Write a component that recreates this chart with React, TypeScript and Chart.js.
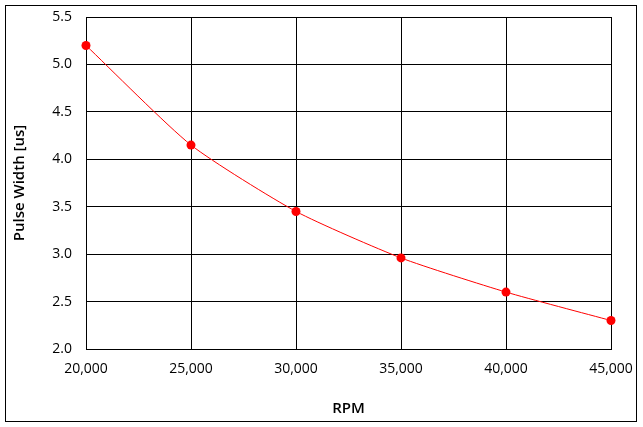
import React, { useEffect, useRef } from "react";
import { Chart, registerables } from "chart.js";

Chart.register(...registerables);

const rpm = [20000, 25000, 30000, 35000, 40000, 45000];
const pulseWidth = [5.2, 4.15, 3.45, 2.96, 2.6, 2.3];
const xTitle = "RPM";
const yTitle = "Pulse Width [us]";

const FONT = "'Open Sans', 'Noto Sans', sans-serif";

export default function App() {
  const ref = useRef<HTMLCanvasElement>(null);
  useEffect(() => {
    if (!ref.current) return;
    const chart = new Chart(ref.current, {
      type: "line",
      data: {
        datasets: [
          {
            data: rpm.map((x, i) => ({ x, y: pulseWidth[i] })),
            borderColor: "#ff0000",
            backgroundColor: "#ff0000",
            borderWidth: 1,
            pointRadius: 4.5,
            pointBorderWidth: 0,
            tension: 0.2,
            fill: false,
            clip: false,
          },
        ],
      },
      options: {
        responsive: false,
        animation: false,
        devicePixelRatio: 1,
        layout: { autoPadding: false, padding: { left: 0, top: 17, right: 32, bottom: 5 } },
        plugins: { legend: { display: false }, tooltip: { enabled: false } },
        scales: {
          x: {
            type: "linear",
            min: 20000,
            max: 45000,
            border: { color: "#000", width: 1 },
            grid: { color: "#000", lineWidth: 1, drawTicks: false },
            ticks: {
              stepSize: 5000,
              padding: 12,
              color: "#000",
              font: { family: FONT, size: 14 },
              maxRotation: 0,
              callback: (v: any) => Number(v).toLocaleString("en-US"),
            },
            title: {
              display: true,
              text: xTitle,
              color: "#000",
              font: { family: FONT, size: 15, weight: "600" },
              padding: { top: 0, bottom: 4 },
            },
            afterFit: (s: any) => {
              s.height = 427 - 5 - 349;
              s.paddingLeft = 0;
              s.paddingRight = 0;
            },
          },
          y: {
            type: "linear",
            min: 2.0,
            max: 5.5,
            border: { color: "#000", width: 1 },
            grid: { color: "#000", lineWidth: 1, drawTicks: false },
            ticks: {
              stepSize: 0.5,
              padding: 14,
              color: "#000",
              font: { family: FONT, size: 14 },
              callback: (v: any) => Number(v).toFixed(1),
            },
            title: {
              display: true,
              text: yTitle,
              color: "#000",
              font: { family: FONT, size: 15, weight: "600" },
              padding: { top: 11, bottom: 0 },
            },
            afterFit: (s: any) => {
              s.width = 86;
              s.paddingTop = 0;
              s.paddingBottom = 0;
            },
          },
        },
      },
    });
    return () => chart.destroy();
  }, []);
  return (
    <div style={{ position: "fixed", left: 0, top: 0, width: 643, height: 427, background: "#fff" }}>
      <canvas ref={ref} width={643} height={427} style={{ position: "absolute", left: 0, top: 0 }} />
      <div
        style={{
          position: "absolute",
          left: 5,
          top: 5,
          width: 632,
          height: 417,
          border: "1px solid #000",
          boxSizing: "border-box",
          pointerEvents: "none",
        }}
      />
    </div>
  );
}
